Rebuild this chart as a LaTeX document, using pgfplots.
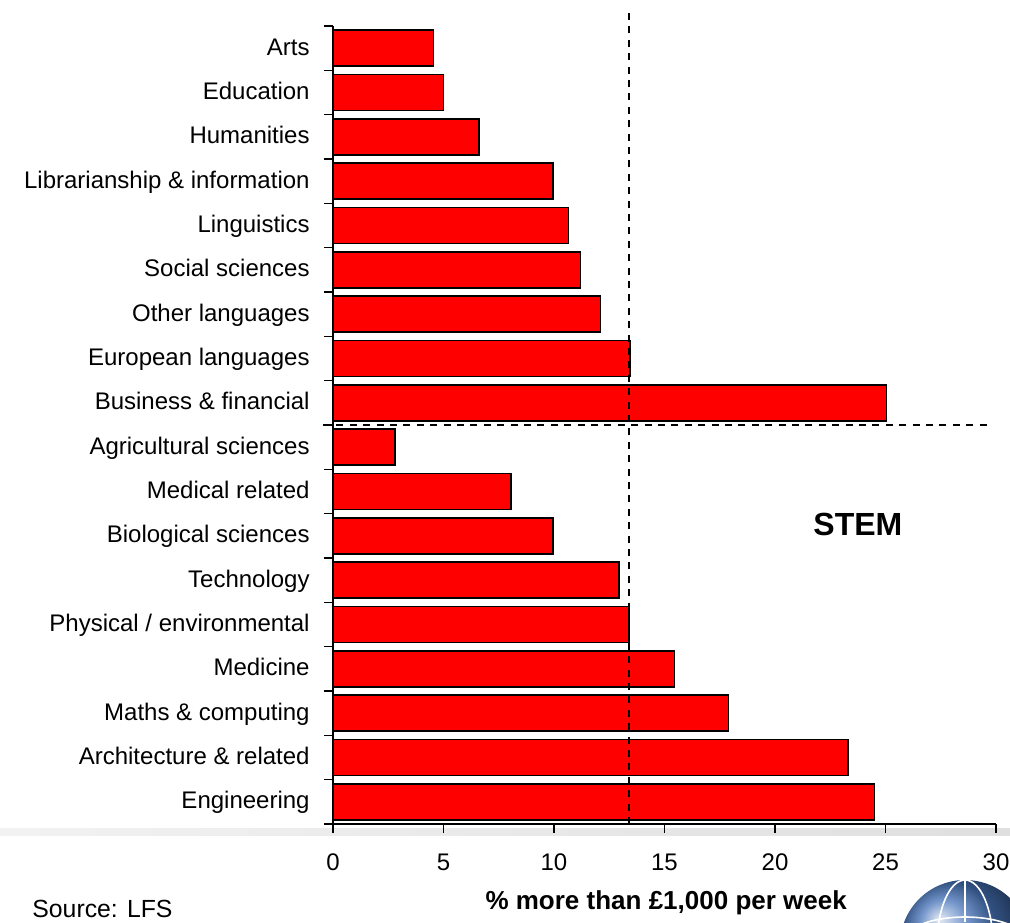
\documentclass[border=0pt]{standalone}
\usepackage{fontspec}
\setmainfont{Liberation Sans}
\usepackage{pgfplots}
\usepackage{pgfplotstable}
\pgfplotsset{compat=1.18}
\pgfplotstableread{
y val
0 24.5
1 23.3
2 17.9
3 15.45
4 13.4
5 12.95
6 9.95
7 8.05
8 2.8
9 25.05
10 13.45
11 12.1
12 11.2
13 10.65
14 9.95
15 6.6
16 5.0
17 4.55
}\datatable
\begin{document}
\begin{tikzpicture}
\useasboundingbox (-166.5pt,-49pt) rectangle (338.5pt,412pt);
\fill[left color=gray!10, right color=gray!25] (-166.5pt,-2pt) rectangle (338.5pt,-5.5pt);
\begin{scope}
\clip (-166.5pt,-49pt) rectangle (338.5pt,412pt);
\shade[ball color={rgb,255:red,70;green,115;blue,185}] (316pt,-60.5pt) circle (32.5pt);
\draw[white, line width=0.8pt] (316pt,-60.5pt) ellipse (14pt and 32.5pt);
\draw[white, line width=0.8pt] (316pt,-60.5pt) ellipse (32.5pt and 14pt);
\draw[white, line width=0.8pt] (316pt,-28pt) -- (316pt,-49pt);
\end{scope}
\begin{axis}[
  scale only axis, width=331.5pt, height=399pt,
  xmin=0, xmax=30, ymin=-0.5, ymax=17.5,
  clip=false,
  axis x line*=bottom, axis y line*=left,
  axis line style={-, black, line width=0.8pt},
  tick align=outside,
  major tick length=4.5pt,
  tick style={black, line width=0.8pt},
  xtick={0,5,...,30},
  ytick={-0.5,0.5,...,17.5},
  y tick label as interval,
  yticklabels={Engineering, Architecture \& related, Maths \& computing, Medicine, Physical / environmental, Technology, Biological sciences, Medical related, Agricultural sciences, Business \& financial, European languages, Other languages, Social sciences, Linguistics, Librarianship \& information, Humanities, Education, Arts},
  /pgf/number format/assume math mode=true,
  xticklabel style={font=\fontsize{12}{14}\selectfont, inner sep=0pt, anchor=north, text height=0.72em, text depth=0pt},
  xticklabel shift=11.5pt,
  yticklabel style={font=\fontsize{12}{14}\selectfont, inner sep=0pt, anchor=east, text height=0.72em, text depth=0.02em},
  yticklabel shift=7pt,
]
\addplot[xbar, bar width=0.81, fill=red, draw=black, line width=0.8pt] table[x=val,y=y]{\datatable};
\draw[black, line width=1pt, dash pattern=on 3.5pt off 3.2pt] (axis cs:13.4,-0.5) -- (axis cs:13.4,17.9);
\draw[black, line width=1pt, dash pattern=on 3.5pt off 3.2pt] (axis cs:-0.45,8.5) -- (axis cs:29.85,8.5);
\node[font=\bfseries\fontsize{16}{18}\selectfont] at (axis cs:23.75,6.25) {STEM};
\end{axis}
\node[anchor=base, font=\bfseries\fontsize{13}{15}\selectfont] at (166.6pt,-42.5pt) {\% more than £1,000 per week};
\node[anchor=base west, inner sep=0pt, font=\fontsize{12.4}{14}\selectfont] at (-150.5pt,-46.5pt) {Source: LFS};
\end{tikzpicture}
\end{document}
